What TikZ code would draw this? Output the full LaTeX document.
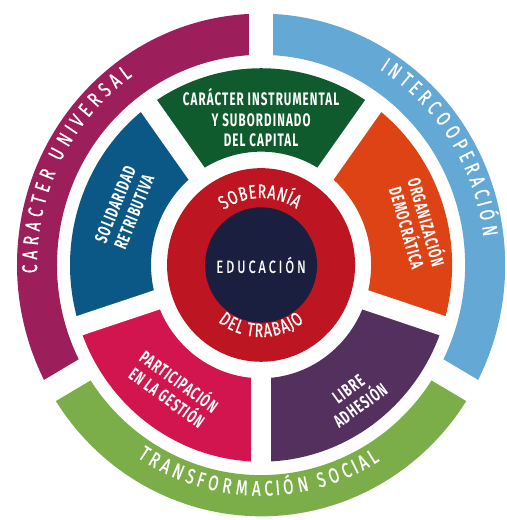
\documentclass[tikz,border=0pt]{standalone}
\usepackage{fontspec}
\usepackage{tikz}
\usetikzlibrary{decorations.text}
\setmainfont{Fira Sans}
\newfontfamily\ringfont{Fira Sans}[FakeStretch=0.72,FakeBold=0.8]
\newfontfamily\partfont{Fira Sans}[FakeStretch=0.64,LetterSpace=6]
\definecolor{universal}{RGB}{156,31,91}
\definecolor{interco}{RGB}{100,168,214}
\definecolor{social}{RGB}{123,174,72}
\definecolor{capital}{RGB}{15,91,45}
\definecolor{democracia}{RGB}{222,67,22}
\definecolor{adhesion}{RGB}{84,48,95}
\definecolor{gestion}{RGB}{211,21,79}
\definecolor{solidaridad}{RGB}{11,88,135}
\definecolor{soberania}{RGB}{190,21,34}
\definecolor{educacion}{RGB}{26,30,63}

\begin{document}
\begin{tikzpicture}[
  x=0.02cm, y=0.0206cm,
  part/.style={font=\partfont\bfseries\fontsize{10.3}{11.6}\selectfont,text=white,align=center,inner sep=0pt},
  gap/.style={draw=white,line width=#1},
  arctext/.style 2 args={decorate,decoration={text effects along path,text={#2},
    text effects/.cd,text along path,fit text to path,characters={text=white,inner sep=0pt,font=\ringfont\fontsize{#1}{14}\selectfont}}},
]
\useasboundingbox (0,0) rectangle (506,504.85);
\begin{scope}[shift={(261,247.6)}]
\foreach \a/\b/\col in {90/210/universal,210/330/social,-30/90/interco}
  \fill[\col] (\a:244) arc[start angle=\a,end angle=\b,radius=244] -- (\b:204) arc[start angle=\b,end angle=\a,radius=204] -- cycle;
\foreach \a in {90,210,330}
  \draw[gap=0.48cm] (\a:195) -- (\a:256);

\foreach \a/\b/\col in {54/126/capital,126/198/solidaridad,198/270/gestion,270/342/adhesion,-18/54/democracia}
  \fill[\col] (\a:191) arc[start angle=\a,end angle=\b,radius=191] -- (\b:110) arc[start angle=\b,end angle=\a,radius=110] -- cycle;
\foreach \a in {54,126,198,270,342}
  \draw[gap=0.4cm] (\a:102) -- (\a:198);

\fill[soberania] (0,0) circle[radius=94];
\fill[educacion] (0,0) circle[radius=56];

\node[font=\ringfont\fontsize{10}{12}\selectfont,text=white] (educa) at (0,0) {E\,D\,U\,C\,A\,C\,I\,Ó\,N};
\path[arctext={11}{SOBERANÍA}] (125:65) arc[start angle=125,end angle=57,radius=65];
\path[arctext={11}{DEL TRABAJO}] (232:70) arc[start angle=232,end angle=308,radius=70];

\node[part] (capital) at (90:143) {CARÁCTER INSTRUMENTAL\\Y SUBORDINADO\\DEL CAPITAL};
\node[part,rotate=68] (solidaridad) at (158:147) {SOLIDARIDAD\\RETRIBUTIVA};
\node[part,rotate=-74] (democracia) at (14:162) {ORGANIZACIÓN\\DEMOCRÁTICA};
\node[part,rotate=-36] (gestion) at (234:148) {PARTICIPACIÓN\\EN LA GESTIÓN};
\node[part,rotate=36] (adhesion) at (306:159) {LIBRE\\ADHESIÓN};

\path[arctext={12}{CARACTER UNIVERSAL}] (182:224) arc[start angle=182,end angle=125,radius=224];
\path[arctext={12}{INTERCOOPERACIÓN}] (58:224) arc[start angle=58,end angle=7,radius=224];
\path[arctext={12}{TRANSFORMACIÓN SOCIAL}] (236.5:224) arc[start angle=236.5,end angle=302,radius=224];
\end{scope}
\end{tikzpicture}
\end{document}
